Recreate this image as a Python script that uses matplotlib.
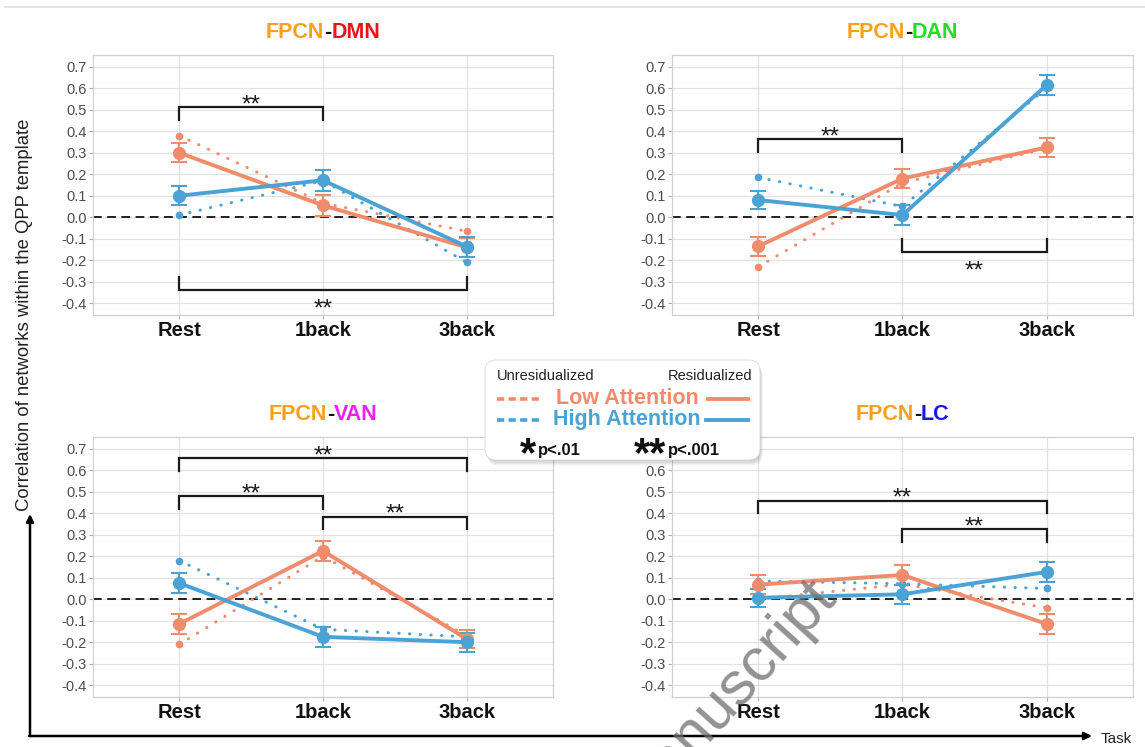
import matplotlib
matplotlib.use("Agg")
import matplotlib.pyplot as plt
import matplotlib.transforms as mtransforms
from matplotlib.offsetbox import TextArea, HPacker, AnchoredOffsetbox
from matplotlib.patches import FancyBboxPatch

plt.rcParams['font.family'] = ['Liberation Sans', 'DejaVu Sans']

# ---------------- data ----------------
conditions = ["Rest", "1back", "3back"]
ytick_vals = [0.7, 0.6, 0.5, 0.4, 0.3, 0.2, 0.1, 0.0, -0.1, -0.2, -0.3, -0.4]
ytick_labels = ["0.7", "0.6", "0.5", "0.4", "0.3", "0.2", "0.1", "0.0",
                "-0.1", "-0.2", "-0.3", "-0.4"]

# FPCN-DMN
dmn_low_res = [0.300, 0.055, -0.140]
dmn_low_err = [0.045, 0.050, 0.045]
dmn_high_res = [0.100, 0.172, -0.137]
dmn_high_err = [0.045, 0.048, 0.047]
dmn_low_unres = [0.380, 0.065, -0.065]
dmn_high_unres = [0.010, 0.170, -0.210]
dmn_brackets = [(0, 1, 0.513, "above"), (0, 2, -0.340, "below")]

# FPCN-DAN
dan_low_res = [-0.135, 0.180, 0.325]
dan_low_err = [0.045, 0.045, 0.045]
dan_high_res = [0.080, 0.010, 0.615]
dan_high_err = [0.043, 0.045, 0.045]
dan_low_unres = [-0.230, 0.160, 0.320]
dan_high_unres = [0.185, 0.050, 0.600]
dan_brackets = [(0, 1, 0.362, "above"), (1, 2, -0.162, "below")]

# FPCN-VAN
van_low_res = [-0.115, 0.225, -0.185]
van_low_err = [0.045, 0.045, 0.043]
van_high_res = [0.075, -0.175, -0.200]
van_high_err = [0.045, 0.045, 0.045]
van_low_unres = [-0.210, 0.200, -0.170]
van_high_unres = [0.180, -0.140, -0.175]
van_brackets = [(0, 2, 0.656, "above"), (0, 1, 0.482, "above"), (1, 2, 0.385, "above")]

# FPCN-LC
lc_low_res = [0.068, 0.113, -0.115]
lc_low_err = [0.045, 0.047, 0.047]
lc_high_res = [0.007, 0.023, 0.127]
lc_high_err = [0.042, 0.043, 0.047]
lc_low_unres = [0.000, 0.070, -0.040]
lc_high_unres = [0.085, 0.072, 0.050]
lc_brackets = [(0, 2, 0.459, "above"), (1, 2, 0.328, "above")]

titles = [("FPCN", "-", "DMN"), ("FPCN", "-", "DAN"), ("FPCN", "-", "VAN"), ("FPCN", "-", "LC")]
title_colors = ["#e8131b", "#22dd22", "#f020f0", "#1a1ae0"]

# ---------------- styles ----------------
LOW = "#f08c6c"
HIGH = "#4aa3d4"
FPCN_C = "#f9a01b"

W, H = 1145, 747
fig = plt.figure(figsize=(W / 100, H / 100), dpi=100)
fig.patch.set_facecolor("white")


def px_axes(x0, y0, x1, y1):
    return fig.add_axes([x0 / W, 1 - y1 / H, (x1 - x0) / W, (y1 - y0) / H])


panel_boxes = [(93, 55, 553, 315), (672, 55, 1133, 315),
               (93, 437, 553, 697), (672, 437, 1133, 697)]

panel_data = [
    (dmn_low_res, dmn_low_err, dmn_high_res, dmn_high_err, dmn_low_unres, dmn_high_unres, dmn_brackets),
    (dan_low_res, dan_low_err, dan_high_res, dan_high_err, dan_low_unres, dan_high_unres, dan_brackets),
    (van_low_res, van_low_err, van_high_res, van_high_err, van_low_unres, van_high_unres, van_brackets),
    (lc_low_res, lc_low_err, lc_high_res, lc_high_err, lc_low_unres, lc_high_unres, lc_brackets),
]

xpos = list(range(len(conditions)))
STAR_FS = 17.5

for box, data, ttl, tcol in zip(panel_boxes, panel_data, titles, title_colors):
    low_res, low_err, high_res, high_err, low_un, high_un, brackets = data
    ax = px_axes(*box)
    ax.set_xlim(-0.6, 2.6)
    ax.set_ylim(-0.455, 0.755)
    ax.set_yticks(ytick_vals)
    ax.set_yticklabels(ytick_labels)
    ax.set_xticks(xpos)
    ax.set_xticklabels(conditions, fontweight="bold")
    ax.grid(True, color="#e2e2e2", lw=0.9, zorder=0)
    ax.set_axisbelow(True)
    for s in ax.spines.values():
        s.set_color("#d0d0d0")
        s.set_linewidth(0.9)
    ax.tick_params(axis="y", labelsize=10.5, labelcolor="#4d4d4d", color="#b0b0b0",
                   length=3, width=0.8, pad=1.5)
    ax.tick_params(axis="x", labelsize=14.5, labelcolor="#111111", color="#b0b0b0",
                   length=3, width=0.8, pad=1.5)

    ax.axhline(0, color="#222222", lw=1.4, linestyle=(0, (4.5, 2.8)), zorder=1.5)

    # unresidualized (dotted)
    ax.plot(xpos, low_un, color=LOW, lw=2.2, linestyle=(0, (0.1, 3.4)),
            dash_capstyle="round", marker="o", ms=4.5, zorder=2)
    ax.plot(xpos, high_un, color=HIGH, lw=2.2, linestyle=(0, (0.1, 3.4)),
            dash_capstyle="round", marker="o", ms=4.5, zorder=2)
    # residualized (solid)
    ax.errorbar(xpos, low_res, yerr=low_err, color=LOW, lw=2.8, marker="o", ms=8.5,
                capsize=5.5, elinewidth=1.5, capthick=1.5, zorder=3)
    ax.errorbar(xpos, high_res, yerr=high_err, color=HIGH, lw=2.8, marker="o", ms=8.5,
                capsize=5.5, elinewidth=1.5, capthick=1.5, zorder=3)

    # significance brackets
    star_tr = mtransforms.offset_copy(ax.transData, fig=fig, x=0, y=-0.58 * STAR_FS,
                                      units="points")
    for i0, i1, yb, side in brackets:
        tick = 0.06 if side == "above" else -0.06
        ax.plot([xpos[i0], xpos[i0], xpos[i1], xpos[i1]],
                [yb - tick, yb, yb, yb - tick], color="#1a1a1a", lw=1.6,
                solid_joinstyle="miter", zorder=4)
        ys = yb + 0.045 if side == "above" else yb - 0.052
        ax.text((xpos[i0] + xpos[i1]) / 2, ys, "**", transform=star_tr, ha="center",
                va="baseline", fontsize=STAR_FS, color="#1a1a1a", zorder=4)

    # coloured title
    tp = dict(fontsize=15.5, fontweight="bold")
    parts = [TextArea(ttl[0], textprops=dict(color=FPCN_C, **tp)),
             TextArea(ttl[1], textprops=dict(color="#111111", **tp)),
             TextArea(ttl[2], textprops=dict(color=tcol, **tp))]
    pack = HPacker(children=parts, align="baseline", pad=0, sep=0)
    anch = AnchoredOffsetbox(loc="lower center", child=pack, pad=0, borderpad=0,
                             frameon=False, bbox_to_anchor=(0.5, 1.045),
                             bbox_transform=ax.transAxes)
    ax.add_artist(anch)

# ---------------- overlay (pixel coords) ----------------
ov = fig.add_axes([0, 0, 1, 1], zorder=10)
ov.set_xlim(0, W)
ov.set_ylim(H, 0)
ov.axis("off")
ov.patch.set_alpha(0)

ov.plot([5, W], [7, 7], color="#e4e4e4", lw=1.5)

# axis arrows
ov.annotate("", xy=(30, 514), xytext=(30, 736),
            arrowprops=dict(arrowstyle="-|>", lw=1.8, color="black",
                            mutation_scale=11, shrinkA=0, shrinkB=0))
ov.annotate("", xy=(1092, 736), xytext=(29, 736),
            arrowprops=dict(arrowstyle="-|>", lw=1.8, color="black",
                            mutation_scale=11, shrinkA=0, shrinkB=0))
ov.text(1101, 739, "Task", fontsize=11, ha="left", va="center", color="#222222")
ov.text(25, 315, "Correlation of networks within the QPP template", rotation=90,
        ha="center", va="center", fontsize=13.3, color="#222222")

# legend box with shadow
for k, a in enumerate([0.05, 0.05, 0.05, 0.05]):
    off = 1 + k * 1.5
    ov.add_patch(FancyBboxPatch((485 + off * 0.5, 360 + off), 275, 100,
                                boxstyle="round,pad=0,rounding_size=11",
                                fc="black", ec="none", alpha=a, zorder=1))
ov.add_patch(FancyBboxPatch((485, 360), 275, 100, boxstyle="round,pad=0,rounding_size=11",
                            fc="white", ec="#d8d8d8", lw=0.6, zorder=2))
ov.text(497, 376, "Unresidualized", fontsize=10.5, ha="left", va="center",
        color="#222222", zorder=3)
ov.text(752, 376, "Residualized", fontsize=10.5, ha="right", va="center",
        color="#222222", zorder=3)
ov.plot([497, 539], [399, 399], color=LOW, lw=2.6, linestyle=(0, (2.0, 1.2)), zorder=3)
ov.plot([497, 539], [420, 420], color=HIGH, lw=2.6, linestyle=(0, (2.0, 1.2)), zorder=3)
ov.plot([708, 748], [399, 399], color=LOW, lw=2.8, zorder=3)
ov.plot([706, 748], [420, 420], color=HIGH, lw=2.8, zorder=3)
ov.text(627, 399, "Low Attention", fontsize=15.5, fontweight="bold", ha="center",
        va="center", color=LOW, zorder=3)
ov.text(627, 420, "High Attention", fontsize=15.5, fontweight="bold", ha="center",
        va="center", color=HIGH, zorder=3)
ov.text(528, 466, "*", fontsize=30, fontweight="bold", ha="center", va="baseline",
        color="#111111", zorder=3)
ov.text(538, 451, "p<.01", fontsize=12, fontweight="bold", ha="left", va="center",
        color="#111111", zorder=3)
ov.text(650, 466, "**", fontsize=30, fontweight="bold", ha="center", va="baseline",
        color="#111111", zorder=3)
ov.text(668, 451, "p<.001", fontsize=12, fontweight="bold", ha="left", va="center",
        color="#111111", zorder=3)

# watermark
ov.text(836, 597, "Manuscript", rotation=48, rotation_mode="anchor", ha="right",
        va="baseline", fontsize=44, color="#6e6e6e", alpha=0.75, zorder=20)

fig.savefig("out.png", dpi=100)
